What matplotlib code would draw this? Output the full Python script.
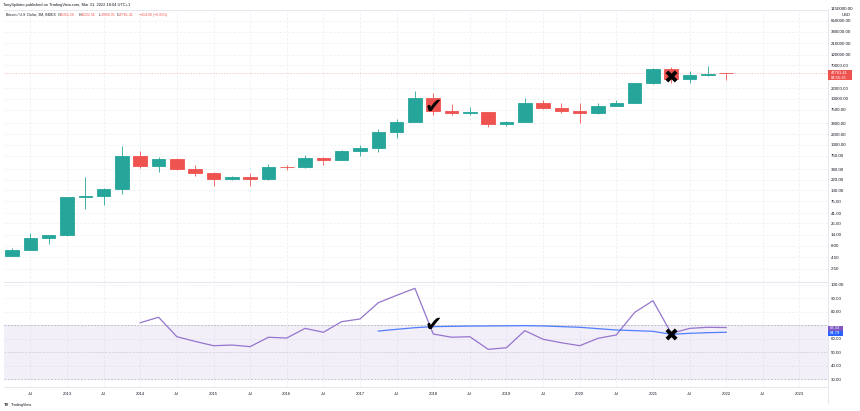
import numpy as np
import matplotlib
matplotlib.use('Agg')
import matplotlib.pyplot as plt
from matplotlib.patches import Rectangle

plt.rcParams['font.family'] = ['Liberation Sans', 'DejaVu Sans']

# quarterly candles, Q2 2012 .. Q1 2022
opens = [4.9, 6.6, 12.0, 13.5, 92, 97, 140, 720, 445, 635,
         380, 313, 236, 252, 227, 425, 412, 653, 600, 957,
         1075, 2420, 4110, 13550, 6900, 6390, 6620, 3700, 4100, 10700,
         8300, 7200, 6400, 9140, 10780, 28950, 58900, 35000, 43800, 48176]
highs = [7.2, 15.0, 14.0, 95, 255, 148, 1200, 950, 680, 660,
         466, 320, 265, 310, 491, 466, 780, 680, 980, 1250,
         2805, 4600, 19300, 17200, 9900, 8450, 6800, 4200, 13800, 12300,
         10500, 10500, 10400, 12450, 29300, 61700, 64800, 52900, 69000, 48222.56]
lows = [4.7, 6.5, 8.8, 13.3, 50, 63, 110, 400, 330, 370,
        268, 162, 215, 165, 224, 365, 400, 470, 590, 750,
        890, 1770, 4100, 5900, 5800, 5850, 3150, 3350, 4050, 7700,
        6500, 3850, 6150, 8900, 10400, 28000, 28800, 29300, 40500, 32990.35]
closes = [6.6, 12.0, 13.5, 92, 97, 140, 720, 445, 635, 380,
          313, 236, 252, 227, 425, 412, 653, 600, 957, 1075,
          2420, 4110, 13550, 6900, 6390, 6620, 3700, 4100, 10700, 8300,
          7200, 6400, 9140, 10780, 28950, 58900, 35000, 43800, 46300, 47761.41]

rsi = [None] * 7 + [71.9, 76.0, 61.5, 58.0, 54.8, 55.3, 54.1, 61.1, 60.5, 67.7,
                    64.8, 72.7, 74.7, 86.8, 92.3, 97.5, 63.5, 61.1, 61.5, 52.1,
                    53.3, 66.0, 59.6, 57.0, 54.8, 60.3, 62.8, 79.6, 88.3, 64.0,
                    67.7, 68.5, 68.3]
rsi_ma = [None] * 20 + [65.7, 67.0, 68.2, 69.0, 69.2, 69.4, 69.5, 69.6, 69.7, 69.5,
                        69.0, 68.5, 67.5, 66.5, 66.0, 65.5, 63.3, 64.0, 64.5, 64.8]

price_ticks = [2.5, 4.5, 8, 14, 25, 41, 75, 130, 220, 380, 750, 1300, 2200, 3800,
               7500, 13000, 22000, 70000, 120000, 210000, 380000, 650000]
rsi_ticks = [30, 40, 50, 60, 70, 80, 90, 100]
x_tick_pos = list(range(1, 44, 2))
x_tick_labels = []
for k, pos in enumerate(x_tick_pos):
    x_tick_labels.append('Jul' if k % 2 == 0 else str(2013 + k // 2))

GREEN = '#26a69a'
RED = '#ef5350'
GRID = '#eef0f5'
TXT = '#131722'

W, H = 860, 411


def rect(x0, y0, x1, y1):
    return [x0 / W, 1 - y1 / H, (x1 - x0) / W, (y1 - y0) / H]


fig = plt.figure(figsize=(8.6, 4.11), dpi=100)
fig.patch.set_facecolor('white')

ax = fig.add_axes(rect(4, 10, 828, 282))
ax2 = fig.add_axes(rect(4, 282, 828, 387), sharex=ax)

x = np.arange(len(closes))
for i in x:
    o, h, l, c = opens[i], highs[i], lows[i], closes[i]
    col = GREEN if c >= o else RED
    ax.vlines(i, l, h, color=col, lw=0.6, zorder=2)
    ax.bar(i, abs(c - o), bottom=min(o, c), width=0.74, color=col,
           edgecolor=col, lw=0.6, zorder=3)

ax.set_yscale('log')
ax.set_ylim(1.30, 1.1296e6)
ax.set_xlim(-0.442, 44.56)
ax.yaxis.tick_right()
ax.set_yticks(price_ticks)
ax.set_yticklabels(['%.2f' % t for t in price_ticks])
ax.yaxis.set_minor_locator(matplotlib.ticker.NullLocator())
ax.tick_params(axis='y', length=0, pad=2.0, labelsize=3.2, labelcolor=TXT)
ax.tick_params(axis='x', length=0, labelbottom=False)
ax.set_xticks(x_tick_pos)
ax.grid(True, color=GRID, lw=0.6, ls=(0, (3, 2)))
ax.set_axisbelow(True)
ax.axhline(closes[-1], color=RED, lw=0.5, ls=(0, (2, 2)), alpha=0.45, zorder=1)

# rsi pane
ax2.axhspan(30, 70, color='#7e57c2', alpha=0.09, lw=0)
ax2.axhline(70, color='#b2b5be', lw=0.6, ls=(0, (2, 2)))
ax2.axhline(50, color='#d1d4dc', lw=0.5, ls=(0, (3, 2)))
ax2.axhline(30, color='#b2b5be', lw=0.6, ls=(0, (2, 2)))
xr = [i for i in x if rsi[i] is not None]
ax2.plot(xr, [rsi[i] for i in xr], color='#9575cd', lw=0.9, zorder=3)
xm = [i for i in x if rsi_ma[i] is not None]
ax2.plot(xm, [rsi_ma[i] for i in xm], color='#2962ff', lw=0.9, alpha=0.8, zorder=3)
ax2.set_ylim(24.05, 102.23)
ax2.yaxis.tick_right()
ax2.set_yticks(rsi_ticks)
# 70.00 sits behind the value labels
ax2.set_yticklabels(['' if t == 70 else '%.2f' % t for t in rsi_ticks])
ax2.tick_params(axis='y', length=0, pad=2.0, labelsize=3.2, labelcolor=TXT)
ax2.set_xticks(x_tick_pos)
ax2.set_xticklabels(x_tick_labels)
ax2.tick_params(axis='x', length=0, pad=3.6, labelsize=3.0, labelcolor=TXT)
ax2.grid(True, color=GRID, lw=0.6, ls=(0, (3, 2)))
ax2.set_axisbelow(True)

for a in (ax, ax2):
    for s in a.spines.values():
        s.set_color('#e0e3eb')
        s.set_linewidth(0.6)
ax.spines['left'].set_visible(False)
ax2.spines['left'].set_visible(False)

# hand drawn marks
ax.text(23.0, 8600, '\u2714', family='DejaVu Sans', fontsize=15, color='black',
        ha='center', va='center', zorder=5)
ax.text(36.0, 36000, '\u2716', family='DejaVu Sans', fontsize=13, color='black',
        ha='center', va='center', zorder=5)
ax2.text(23.0, 70.2, '\u2714', family='DejaVu Sans', fontsize=15, color='black',
         ha='center', va='center', zorder=5)
ax2.text(36.0, 61.5, '\u2716', family='DejaVu Sans', fontsize=13, color='black',
         ha='center', va='center', zorder=5)

# header texts
fig.text(3 / W, 1 - 5 / H, 'TonySpilotro published on TradingView.com, Mar 31, 2022 18:04 UTC+1',
         fontsize=2.9, color=TXT, va='center')
fig.text(6 / W, 1 - 15 / H, 'Bitcoin / U.S. Dollar, 3M, INDEX', fontsize=2.5, color=TXT, va='center')
parts = [('O', '46352.20', 58), ('H', '48222.56', 79), ('L', '32990.35', 99), ('C', '47761.41', 117)]
for letter, val, px in parts:
    fig.text(px / W, 1 - 15 / H, letter, fontsize=2.5, color=TXT, va='center')
    fig.text((px + 2.2) / W, 1 - 15 / H, val, fontsize=2.5, color=RED, va='center')
fig.text(139 / W, 1 - 15 / H, '\u2212414.90 (\u22120.91%)', fontsize=2.5, color=RED, va='center')

# right scale extras
fig.text(831 / W, 1 - 9.5 / H, '1150000.00', fontsize=3.2, color=TXT, va='center')
fig.text(846 / W, 1 - 14.5 / H, 'USD', fontsize=3.0, color=TXT, va='center', ha='center')
fig.patches.append(Rectangle((828 / W, 1 - 80.5 / H), 24 / W, 10 / H, transform=fig.transFigure,
                             facecolor=RED, edgecolor='none'))
fig.text(831 / W, 1 - 73.5 / H, '47761.41', fontsize=3.0, color='white', va='center')
fig.text(831 / W, 1 - 78 / H, '04:55:35', fontsize=3.0, color='white', va='center')
fig.patches.append(Rectangle((828 / W, 1 - 330.5 / H), 15 / W, 5 / H, transform=fig.transFigure,
                             facecolor='#7e57c2', edgecolor='none'))
fig.text(830 / W, 1 - 328 / H, '68.33', fontsize=3.0, color='white', va='center')
fig.patches.append(Rectangle((828 / W, 1 - 336 / H), 15 / W, 5 / H, transform=fig.transFigure,
                             facecolor='#2962ff', edgecolor='none'))
fig.text(830 / W, 1 - 333.5 / H, '64.79', fontsize=3.0, color='white', va='center')

# x scale frame and logo
fig.add_artist(plt.Line2D([828 / W, 828 / W], [1 - 403 / H, 1 - 387 / H], color='#e0e3eb', lw=0.6))
fig.text(4 / W, 1 - 405 / H, 'TV', fontsize=3.0, weight='bold', color=TXT, va='center')
fig.text(11 / W, 1 - 405 / H, 'TradingView', fontsize=2.8, color=TXT, va='center')

fig.savefig('out.png', dpi=100, facecolor='white')
